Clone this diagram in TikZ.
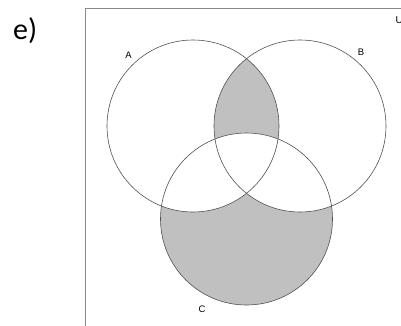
\documentclass[tikz,border=0pt]{standalone}
\usepackage{fontspec}
\newfontfamily\calib{Carlito}
\newfontfamily\arialf{Liberation Sans}
\definecolor{venngray}{HTML}{C0C0C0}
\definecolor{edge}{HTML}{505050}
\definecolor{framec}{HTML}{8A8A8A}
\tikzset{
  setlabel/.style={font=\arialf\fontsize{9.5}{10}\selectfont, inner sep=0pt},
  setedge/.style={draw=edge, line width=0.6pt},
}
\begin{document}
\begin{tikzpicture}[x=1pt,y=-1pt]
\useasboundingbox (0,0) rectangle (401,325);
\fill[white] (0,0) rectangle (401,325);
\coordinate (cA) at (193,126);
\coordinate (cB) at (300,126);
\coordinate (cC) at (246.5,219);
\def\rr{86}
% frame of the universe
\draw[framec, line width=0.9pt] (85,8.5) rectangle (420,340);
% shading
\begin{scope}
  \clip (cA) circle (\rr);
  \fill[venngray] (cB) circle (\rr);
\end{scope}
\fill[venngray] (cC) circle (\rr);
\begin{scope}
  \clip (cC) circle (\rr);
  \fill[white] (cA) circle (\rr);
  \fill[white] (cB) circle (\rr);
\end{scope}
% outlines
\draw[setedge] (cA) circle (\rr);
\draw[setedge] (cB) circle (\rr);
\draw[setedge] (cC) circle (\rr);
% labels
\node[setlabel] (lA) at (128.5,55) {A};
\node[setlabel] (lB) at (361,52.7) {B};
\node[setlabel] (lC) at (202,309) {C};
\node[font=\arialf\fontsize{10}{11}\selectfont, inner sep=0pt, anchor=base west] (lU) at (395.5,23.5) {U};
\node[font=\calib\fontsize{30}{32}\selectfont, inner sep=0pt, anchor=base west] (lE) at (13,39) {e)};
\end{tikzpicture}
\end{document}
